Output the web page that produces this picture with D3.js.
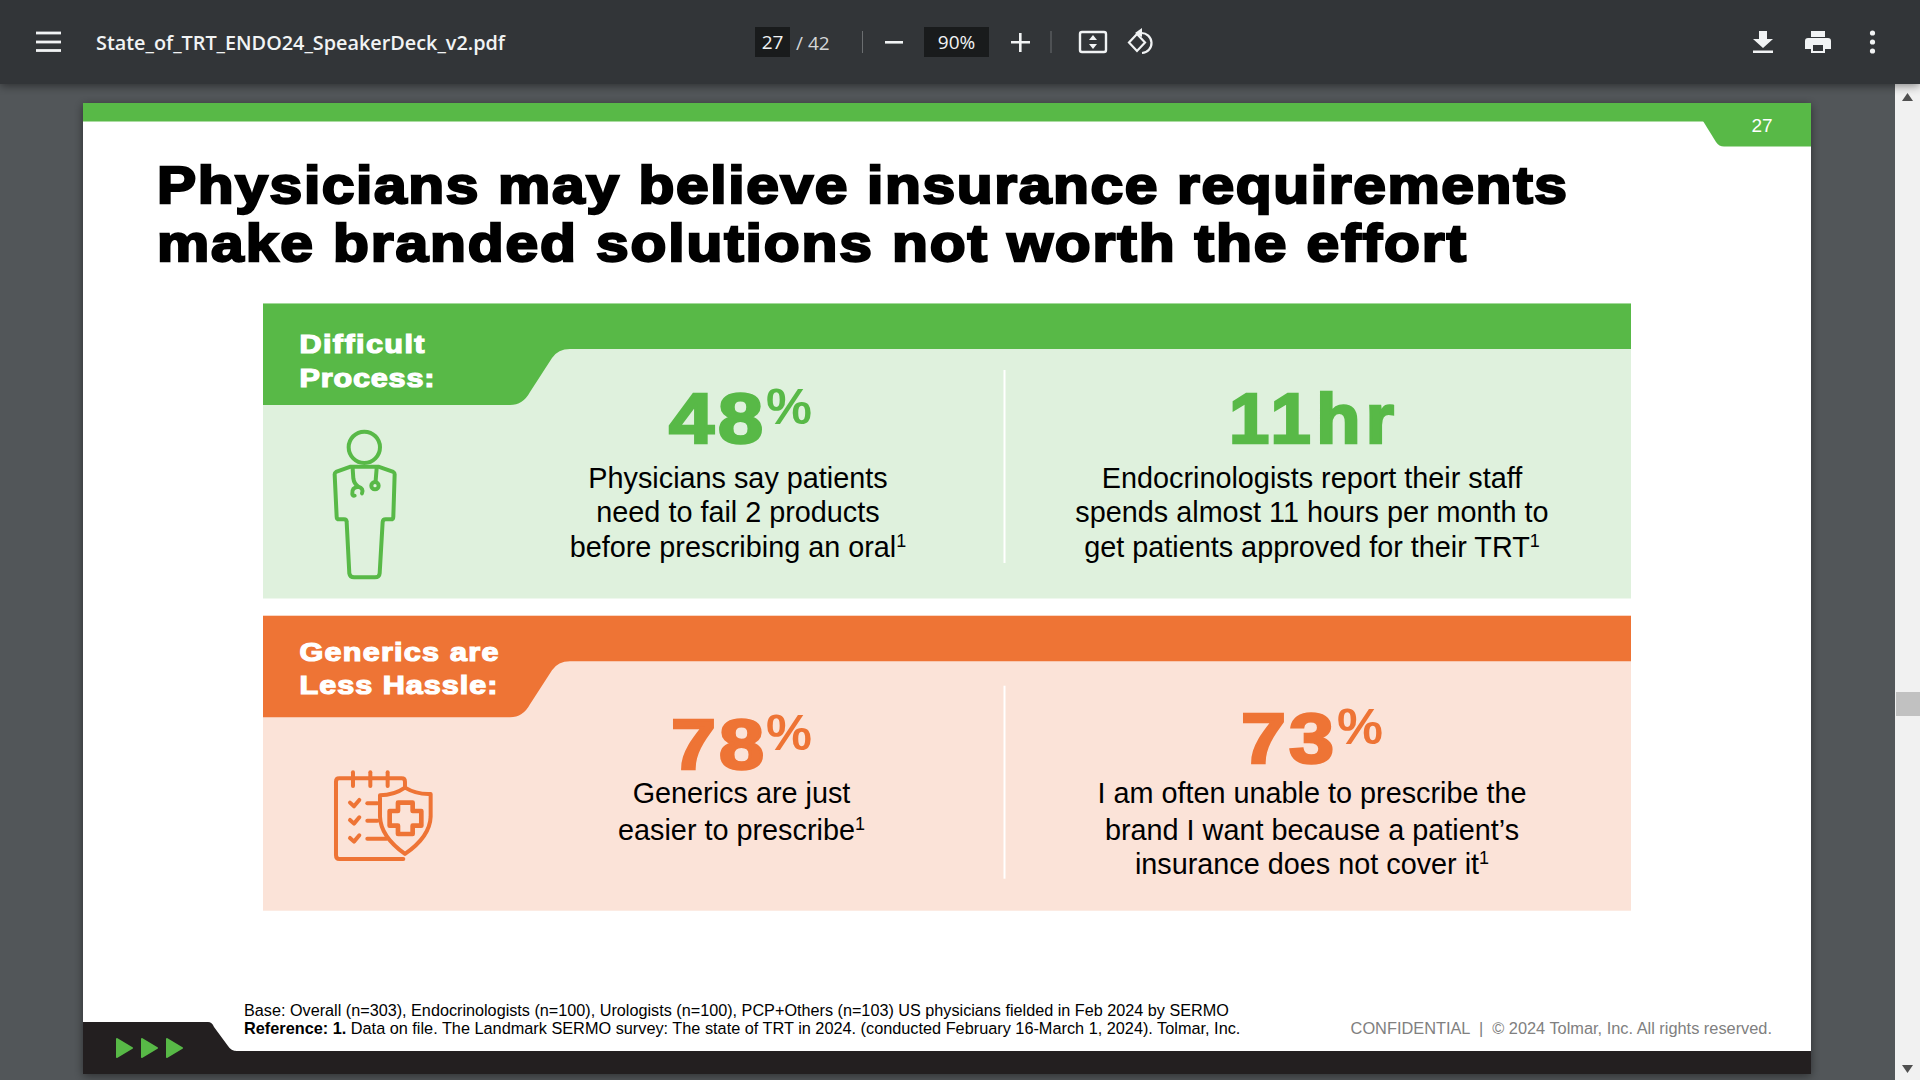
<!DOCTYPE html>
<html>
<head>
<meta charset="utf-8">
<script src="https://cdn.jsdelivr.net/npm/d3@7"></script>
<style>
  html, body { margin: 0; padding: 0; background: #525659; overflow: hidden; }
  svg { display: block; }
</style>
</head>
<body>
<svg id="page" width="1920" height="1080"></svg>
<script>
// Slide content
var fileName = "State_of_TRT_ENDO24_SpeakerDeck_v2.pdf";
var pageNumber = "27";
var pageCount = "42";
var zoomLevel = "90%";
var titleLines = ["Physicians may believe insurance requirements", "make branded solutions not worth the effort"];
var panelLabels = [["Difficult", "Process:"], ["Generics are", "Less Hassle:"]];
var statValues = [["48", "11hr"], ["78", "73"]];
var statUnits = [["%", ""], ["%", "%"]];
var statLines = [
  [["Physicians say patients", "need to fail 2 products", "before prescribing an oral"],
   ["Endocrinologists report their staff", "spends almost 11 hours per month to", "get patients approved for their TRT"]],
  [["Generics are just", "easier to prescribe"],
   ["I am often unable to prescribe the", "brand I want because a patient\u2019s", "insurance does not cover it"]]
];
var footerBase = "Base: Overall (n=303), Endocrinologists (n=100), Urologists (n=100), PCP+Others (n=103) US physicians fielded in Feb 2024 by SERMO";
var footerRefBold = "Reference: 1.";
var footerRef = " Data on file. The Landmark SERMO survey: The state of TRT in 2024. (conducted February 16-March 1, 2024). Tolmar, Inc.";
var confidential = "CONFIDENTIAL  |  \u00A9 2024 Tolmar, Inc. All rights reserved.";

var GREEN = "#58b947", ORANGE = "#ee7435", BAR = "#323639", BG = "#525659";
var panelColors = [GREEN, ORANGE];
var panelTints = ["#dff1dd", "#fbe3d8"];
var BODY = "'Liberation Sans'", UI = "'Open Sans'";

var svg = d3.select("#page");
var defs = svg.append("defs");
var shadow = defs.append("filter").attr("id", "shadow").attr("x", "-5%").attr("y", "-5%").attr("width", "110%").attr("height", "120%");
shadow.append("feDropShadow").attr("dx", 0).attr("dy", 2).attr("stdDeviation", 5).attr("flood-color", "#000").attr("flood-opacity", 0.45);

// Arial Black stand-in: bold text widened a bit, then spaced out to the measured length
function heavy(parent, str, x, y, len, size, sw, color, sx) {
  return parent.append("text")
    .attr("transform", "translate(" + x + "," + y + ") scale(" + sx + ",1)")
    .attr("font-family", BODY).attr("font-weight", 700).attr("font-size", size)
    .attr("fill", color).attr("stroke", color).attr("stroke-width", sw)
    .attr("textLength", len / sx).attr("lengthAdjust", "spacing")
    .text(str);
}

svg.append("rect").attr("width", 1920).attr("height", 1080).attr("fill", BG);

// Slide sheet
svg.append("rect").attr("x", 83).attr("y", 103).attr("width", 1728).attr("height", 971)
  .attr("fill", "#fff").attr("filter", "url(#shadow)");
svg.append("rect").attr("x", 83).attr("y", 103).attr("width", 1728).attr("height", 18.5).attr("fill", GREEN);
svg.append("path").attr("fill", GREEN)
  .attr("d", "M1703 121 L1716 142 Q1719 146.5 1724 146.5 L1811 146.5 L1811 121 Z");
svg.append("text").attr("x", 1762).attr("y", 131.5).attr("text-anchor", "middle")
  .attr("font-family", BODY).attr("font-size", 19).attr("fill", "#fff").text(pageNumber);

// Title
titleLines.forEach(function (line, i) {
  heavy(svg, line, 157, i ? 260.5 : 203, i ? 1309 : 1410, 52, 2.3, "#000", 1.13);
});

// Panels
var panelTop = d3.scaleOrdinal([0, 1], [303.5, 615.7]);
var colX = [[738, 1312], [741.5, 1312]];

function tabPath(t) {
  return "M263 " + t + " H1631 V" + (t + 45.5) + " H570 Q558 " + (t + 45.5) + " 552 " + (t + 54.5) +
    " L530 " + (t + 88.5) + " Q523 " + (t + 101.5) + " 510 " + (t + 101.5) + " H263 Z";
}

var numLeft = [[669, 1229], [671, 1241]];
var numBase = [[443, 443], [769, 763]];
var numWidth = [[94, 165], [93, 93]];
var numStretch = [[1.14, 1.02], [1.14, 1.14]];
var pctLeft = [[766, 0], [766, 1337]];
var pctBase = [[423.5, 0], [749.5, 743.5]];
var bodyBase = [[[488.4, 522.4, 557], [488.4, 522.4, 557]], [[803, 840], [803, 840, 874]]];
var labelBase = [[353.3, 387.2], [660.5, 694.4]];
var labelWidth = [[125, 135], [199, 198]];
var ruleTop = [66.5, 70];

panelLabels.forEach(function (label, p) {
  var t = panelTop(p);
  var g = svg.append("g").attr("class", "panel");
  g.append("rect").attr("x", 263).attr("y", t).attr("width", 1368).attr("height", 295).attr("fill", panelTints[p]);
  g.append("path").attr("d", tabPath(t)).attr("fill", panelColors[p]);
  g.append("line").attr("x1", 1004.5).attr("x2", 1004.5).attr("y1", t + ruleTop[p]).attr("y2", t + ruleTop[p] + 193)
    .attr("stroke", "#fff").attr("stroke-width", 2);

  label.forEach(function (line, i) {
    heavy(g, line, 299.5, labelBase[p][i], labelWidth[p][i], 25.5, 1.2, "#fff", 1.2);
  });

  statValues[p].forEach(function (value, c) {
    var cx = colX[p][c];
    heavy(g, value, numLeft[p][c], numBase[p][c], numWidth[p][c], 71, 2.6, panelColors[p], numStretch[p][c]);
    if (statUnits[p][c]) {
      g.append("text").attr("x", pctLeft[p][c]).attr("y", pctBase[p][c])
        .attr("font-family", BODY).attr("font-weight", 700).attr("font-size", 50).attr("fill", panelColors[p])
        .attr("textLength", 46).attr("lengthAdjust", "spacingAndGlyphs").text(statUnits[p][c]);
    }
    var lines = statLines[p][c];
    lines.forEach(function (line, i) {
      var txt = g.append("text").attr("x", cx).attr("y", bodyBase[p][c][i]).attr("text-anchor", "middle")
        .attr("font-family", BODY).attr("font-size", 28.8).attr("fill", "#000");
      txt.append("tspan").text(line);
      if (i === lines.length - 1) {
        txt.append("tspan").attr("dy", -10).attr("font-size", 18).text("1");
      }
    });
  });
});

// Doctor icon (drawn in 3x units)
var doc = svg.append("g").attr("transform", "translate(250,290) scale(0.3333)")
  .attr("fill", "none").attr("stroke", GREEN).attr("stroke-width", 12).attr("stroke-linejoin", "round").attr("stroke-linecap", "round");
doc.append("circle").attr("cx", 343).attr("cy", 472).attr("r", 47);
doc.append("path").attr("d", "M302 530 L258 546 Q254 548 254 553 L260 680 Q260 688 268 688 L282 688 Q290 688 290 696 L298 850 Q300 862 312 862 L375 862 Q388 862 389 850 L398 696 Q399 688 407 688 L422 688 Q430 688 430 680 L434 553 Q434 548 430 546 L385 530 Z");
doc.append("path").attr("d", "M308 535 L310 565 Q312 582 325 590 Q342 596 336 610 M325 590 Q305 592 307 612 Q308 618 314 617");
doc.append("path").attr("d", "M380 535 L377 572");
doc.append("circle").attr("cx", 375).attr("cy", 587).attr("r", 11);

// Clipboard and shield icon (drawn in 3x units)
var clip = svg.append("g").attr("transform", "translate(250,610) scale(0.3333)")
  .attr("fill", "none").attr("stroke", ORANGE).attr("stroke-width", 12).attr("stroke-linejoin", "round").attr("stroke-linecap", "round");
clip.append("path").attr("d", "M465 530 L465 515 Q465 505 455 505 L268 505 Q258 505 258 515 L258 735 Q258 747 268 747 L460 747");
[309, 361, 413].forEach(function (x) {
  clip.append("line").attr("x1", x).attr("x2", x).attr("y1", 487).attr("y2", 528);
});
[580, 632, 686].forEach(function (y, i) {
  clip.append("path").attr("d", "M300 " + (y - 2) + " L312 " + (y + 9) + " L328 " + (y - 10));
  clip.append("line").attr("x1", 352).attr("x2", i === 2 ? 410 : 382).attr("y1", y).attr("y2", y);
});
clip.append("path").attr("d", "M465 533 Q432 556 390 556 L390 620 Q392 680 465 732 Q540 680 542 620 L542 552 Q500 554 465 533 Z");
clip.append("path").attr("stroke-width", 14)
  .attr("d", "M444 578 H488 V603 H514 V647 H488 V672 H444 V647 H419 V603 H444 Z");

// Footer
svg.append("rect").attr("x", 83).attr("y", 1051).attr("width", 1728).attr("height", 23).attr("fill", "#231f20");
svg.append("path").attr("fill", "#231f20")
  .attr("d", "M83 1022 H208 Q212 1022 214 1027 L228 1046 Q231 1051 237 1051 L237 1060 L83 1060 Z");
[117, 142, 167].forEach(function (x) {
  svg.append("path").attr("fill", GREEN).attr("stroke", GREEN).attr("stroke-width", 2).attr("stroke-linejoin", "round")
    .attr("d", "M" + x + " 1039 L" + (x + 15) + " 1048 L" + x + " 1057 Z");
});
svg.append("text").attr("x", 244).attr("y", 1016).attr("font-family", BODY).attr("font-size", 16.22).attr("fill", "#000").text(footerBase);
var ref = svg.append("text").attr("x", 244).attr("y", 1034).attr("font-family", BODY).attr("font-size", 16.3).attr("fill", "#000");
ref.append("tspan").attr("font-weight", 700).text(footerRefBold);
ref.append("tspan").text(footerRef);
svg.append("text").attr("x", 1772).attr("y", 1034).attr("text-anchor", "end").attr("xml:space", "preserve")
  .attr("font-family", BODY).attr("font-size", 16.35).attr("fill", "#808080").text(confidential);

// Scrollbar
svg.append("rect").attr("x", 1895).attr("y", 84).attr("width", 25).attr("height", 996).attr("fill", "#f1f1f1");
svg.append("rect").attr("x", 1896).attr("y", 692).attr("width", 24).attr("height", 24).attr("fill", "#c1c1c1");
svg.append("path").attr("fill", "#505050").attr("d", "M1902 101 L1913 101 L1907.5 93 Z");
svg.append("path").attr("fill", "#505050").attr("d", "M1902 1065 L1913 1065 L1907.5 1073 Z");

// PDF viewer toolbar
svg.append("rect").attr("width", 1920).attr("height", 84).attr("fill", BAR).attr("filter", "url(#shadow)");
var ink = "#f1f3f4";
[33, 42, 50.5].forEach(function (y) {
  svg.append("rect").attr("x", 36).attr("y", y - 1.4).attr("width", 25).attr("height", 2.8).attr("fill", ink);
});
svg.append("text").attr("x", 96).attr("y", 50).attr("font-family", UI).attr("font-weight", 600).attr("font-size", 20)
  .attr("fill", ink).attr("textLength", 409).attr("lengthAdjust", "spacingAndGlyphs").text(fileName);

svg.append("rect").attr("x", 755).attr("y", 27).attr("width", 35).attr("height", 30).attr("fill", "#191b1c");
svg.append("text").attr("x", 772.5).attr("y", 49).attr("text-anchor", "middle").attr("font-family", UI).attr("font-size", 19).attr("fill", ink).text(pageNumber);
svg.append("text").attr("x", 796).attr("y", 50).attr("font-family", UI).attr("font-size", 19).attr("fill", "#d5d7d8").text("/ " + pageCount);
svg.append("rect").attr("x", 924).attr("y", 27).attr("width", 65).attr("height", 30).attr("fill", "#191b1c");
svg.append("text").attr("x", 956.5).attr("y", 49).attr("text-anchor", "middle").attr("font-family", UI).attr("font-size", 19).attr("fill", ink).text(zoomLevel);
[862.5, 1051].forEach(function (x) {
  svg.append("line").attr("x1", x).attr("x2", x).attr("y1", 31).attr("y2", 53).attr("stroke", "#6b6e70").attr("stroke-width", 1);
});
svg.append("rect").attr("x", 885).attr("y", 41).attr("width", 18).attr("height", 2.6).attr("fill", ink);
svg.append("path").attr("fill", ink).attr("d", "M1011 41 H1019 V33 H1021.6 V41 H1030 V43.6 H1021.6 V52 H1019 V43.6 H1011 Z");

// Fit to page
svg.append("rect").attr("x", 1080).attr("y", 32).attr("width", 26).attr("height", 20).attr("rx", 2)
  .attr("fill", "none").attr("stroke", ink).attr("stroke-width", 2.4);
svg.append("path").attr("fill", ink).attr("d", "M1093 35 L1097 40 L1089 40 Z M1093 49 L1097 44 L1089 44 Z");
// Rotate
var rot = svg.append("g").attr("fill", "none").attr("stroke", ink).attr("stroke-width", 2.2);
rot.append("path").attr("d", "M1137 34 L1129 42.5 L1137 51 L1145 42.5 Z");
rot.append("path").attr("d", "M1141 33 A10 10 0 0 1 1142 53");
svg.append("path").attr("fill", ink).attr("d", "M1142 28 L1142 37 L1135 33 Z");
// Download
svg.append("path").attr("fill", ink).attr("d", "M1759 31 H1767 V39 H1773 L1763 48 L1753 39 H1759 Z M1753 50.5 H1773 V53 H1753 Z");
// Print
svg.append("path").attr("fill", ink).attr("fill-rule", "evenodd")
  .attr("d", "M1811 31 H1825 V37 H1811 Z M1808 38 H1828 Q1831 38 1831 41 V49 H1825 V53 H1811 V49 H1805 V41 Q1805 38 1808 38 Z M1813 45 V51 H1823 V45 Z");
// More
[33, 42, 51].forEach(function (y) {
  svg.append("circle").attr("cx", 1872.5).attr("cy", y).attr("r", 2.6).attr("fill", ink);
});
</script>
</body>
</html>
